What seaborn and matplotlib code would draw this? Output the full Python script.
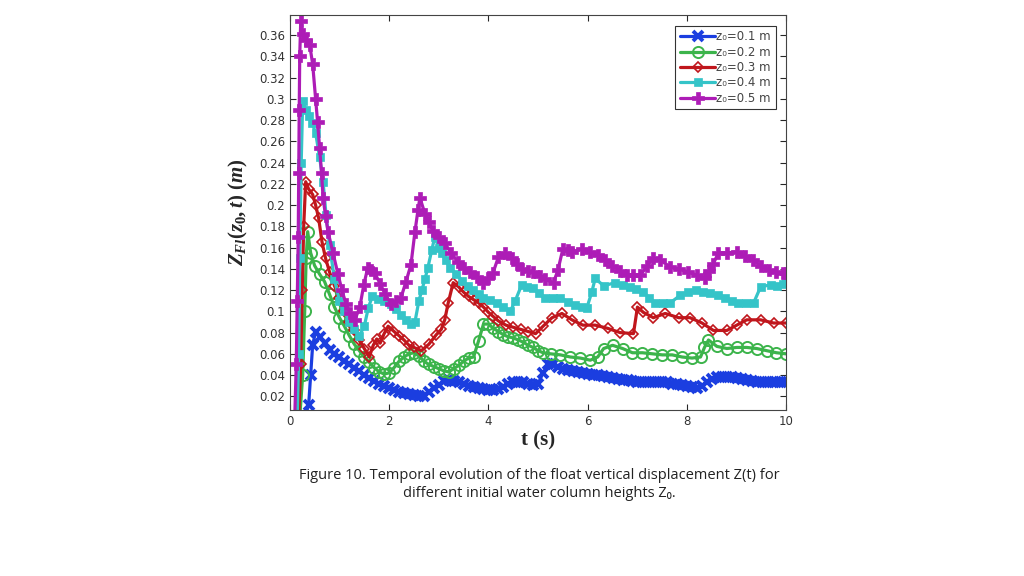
import numpy as np
import pandas as pd
import matplotlib
matplotlib.use("Agg")
import matplotlib.pyplot as plt
import seaborn as sns

# values (t in s, Z in m)
t_01 = [0.30, 0.38, 0.42, 0.46, 0.52, 0.60, 0.70, 0.80, 0.90, 1.00, 1.10, 1.20, 1.30, 1.40,
        1.50, 1.60, 1.70, 1.80, 1.90, 2.00, 2.10, 2.20, 2.30, 2.40, 2.50, 2.60, 2.70, 2.80,
        2.90, 3.00, 3.10, 3.20, 3.30, 3.40, 3.50, 3.60, 3.70, 3.80, 3.90, 4.00, 4.10, 4.20,
        4.30, 4.40, 4.50, 4.60, 4.70, 4.80, 4.90, 5.00, 5.10, 5.20, 5.30, 5.40, 5.50, 5.60,
        5.70, 5.80, 5.90, 6.00, 6.10, 6.20, 6.30, 6.40, 6.50, 6.60, 6.70, 6.80, 6.90, 7.00,
        7.10, 7.20, 7.30, 7.40, 7.50, 7.60, 7.70, 7.80, 7.90, 8.00, 8.10, 8.20, 8.30, 8.40,
        8.50, 8.60, 8.70, 8.80, 8.90, 9.00, 9.10, 9.20, 9.30, 9.40, 9.50, 9.60, 9.70, 9.80,
        9.90, 10.0]
z_01 = [0.000, 0.012, 0.040, 0.068, 0.081, 0.076, 0.070, 0.064, 0.060, 0.057, 0.053, 0.050,
        0.047, 0.044, 0.040, 0.037, 0.034, 0.032, 0.030, 0.028, 0.026, 0.024, 0.023, 0.022,
        0.021, 0.020, 0.020, 0.024, 0.028, 0.031, 0.034, 0.035, 0.034, 0.033, 0.032, 0.030,
        0.029, 0.028, 0.027, 0.026, 0.026, 0.027, 0.029, 0.032, 0.033, 0.033, 0.033, 0.032,
        0.031, 0.032, 0.042, 0.050, 0.050, 0.048, 0.046, 0.045, 0.044, 0.043, 0.042, 0.041,
        0.040, 0.040, 0.039, 0.038, 0.037, 0.036, 0.035, 0.035, 0.034, 0.033, 0.033, 0.033,
        0.033, 0.033, 0.033, 0.033, 0.032, 0.032, 0.031, 0.030, 0.029, 0.028, 0.030, 0.033,
        0.036, 0.038, 0.038, 0.038, 0.038, 0.037, 0.036, 0.035, 0.034, 0.033, 0.033, 0.033,
        0.033, 0.033, 0.033, 0.033]

t_02 = [0.20, 0.26, 0.30, 0.33, 0.36, 0.42, 0.50, 0.60, 0.70, 0.80, 0.90, 1.00, 1.10, 1.20,
        1.30, 1.40, 1.50, 1.60, 1.70, 1.80, 1.90, 2.00, 2.10, 2.20, 2.30, 2.40, 2.50, 2.60,
        2.70, 2.80, 2.90, 3.00, 3.10, 3.20, 3.30, 3.40, 3.50, 3.60, 3.70, 3.80, 3.90, 4.00,
        4.10, 4.20, 4.30, 4.40, 4.50, 4.60, 4.70, 4.80, 4.90, 5.00, 5.10, 5.25, 5.45, 5.65,
        5.85, 6.05, 6.20, 6.32, 6.50, 6.70, 6.90, 7.10, 7.30, 7.50, 7.70, 7.90, 8.10, 8.27,
        8.35, 8.43, 8.60, 8.80, 9.00, 9.20, 9.40, 9.60, 9.80, 10.0]
z_02 = [0.000, 0.040, 0.100, 0.150, 0.175, 0.155, 0.143, 0.135, 0.128, 0.116, 0.104, 0.094,
        0.086, 0.077, 0.069, 0.063, 0.057, 0.052, 0.047, 0.043, 0.041, 0.042, 0.047, 0.053,
        0.057, 0.060, 0.061, 0.058, 0.053, 0.050, 0.048, 0.046, 0.044, 0.043, 0.046, 0.049,
        0.053, 0.056, 0.057, 0.072, 0.088, 0.088, 0.084, 0.081, 0.078, 0.076, 0.075, 0.073,
        0.071, 0.068, 0.066, 0.063, 0.061, 0.060, 0.059, 0.057, 0.056, 0.054, 0.057, 0.065,
        0.068, 0.065, 0.061, 0.061, 0.060, 0.059, 0.059, 0.057, 0.056, 0.057, 0.066, 0.073,
        0.067, 0.065, 0.066, 0.066, 0.065, 0.063, 0.061, 0.060]

t_03 = [0.18, 0.22, 0.25, 0.28, 0.32, 0.38, 0.46, 0.52, 0.58, 0.65, 0.72, 0.80, 0.90, 1.00,
        1.10, 1.20, 1.30, 1.40, 1.50, 1.60, 1.68, 1.75, 1.82, 1.90, 1.98, 2.10, 2.20, 2.30,
        2.40, 2.50, 2.65, 2.80, 2.95, 3.05, 3.12, 3.19, 3.29, 3.40, 3.50, 3.60, 3.70, 3.80,
        3.90, 4.00, 4.10, 4.20, 4.35, 4.50, 4.65, 4.80, 4.95, 5.10, 5.28, 5.48, 5.68, 5.90,
        6.15, 6.40, 6.65, 6.92, 7.00, 7.12, 7.32, 7.56, 7.83, 8.06, 8.30, 8.53, 8.80, 9.00,
        9.20, 9.48, 9.74, 10.0]
z_03 = [0.000, 0.050, 0.120, 0.180, 0.222, 0.215, 0.210, 0.200, 0.188, 0.165, 0.150, 0.137,
        0.124, 0.113, 0.100, 0.090, 0.082, 0.073, 0.065, 0.057, 0.068, 0.074, 0.070, 0.079,
        0.086, 0.081, 0.077, 0.073, 0.068, 0.066, 0.063, 0.069, 0.078, 0.083, 0.092, 0.108,
        0.127, 0.123, 0.118, 0.114, 0.111, 0.108, 0.104, 0.099, 0.095, 0.091, 0.087, 0.085,
        0.083, 0.081, 0.079, 0.086, 0.094, 0.098, 0.092, 0.087, 0.087, 0.084, 0.080, 0.079,
        0.104, 0.099, 0.094, 0.098, 0.094, 0.094, 0.089, 0.082, 0.082, 0.087, 0.092, 0.092,
        0.089, 0.089]

t_04 = [0.15, 0.18, 0.20, 0.23, 0.26, 0.32, 0.38, 0.45, 0.52, 0.60, 0.67, 0.73, 0.80, 0.90,
        1.00, 1.10, 1.20, 1.30, 1.40, 1.50, 1.58, 1.66, 1.77, 1.90, 2.04, 2.14, 2.24, 2.34,
        2.44, 2.52, 2.60, 2.66, 2.72, 2.78, 2.86, 2.92, 3.00, 3.06, 3.14, 3.23, 3.35, 3.47,
        3.58, 3.69, 3.80, 3.89, 4.03, 4.17, 4.30, 4.44, 4.54, 4.67, 4.78, 4.90, 5.02, 5.14,
        5.29, 5.44, 5.60, 5.75, 5.88, 5.98, 6.08, 6.15, 6.32, 6.55, 6.70, 6.85, 6.98, 7.12,
        7.24, 7.36, 7.51, 7.66, 7.86, 8.02, 8.17, 8.32, 8.47, 8.62, 8.77, 8.90, 9.03, 9.18,
        9.34, 9.48, 9.68, 9.82, 9.94, 10.0]
z_04 = [0.000, 0.060, 0.150, 0.240, 0.298, 0.290, 0.284, 0.277, 0.268, 0.245, 0.222, 0.191,
        0.162, 0.130, 0.110, 0.100, 0.090, 0.083, 0.077, 0.086, 0.103, 0.114, 0.112, 0.110,
        0.107, 0.102, 0.097, 0.092, 0.088, 0.090, 0.110, 0.120, 0.130, 0.141, 0.158, 0.170,
        0.160, 0.155, 0.148, 0.141, 0.135, 0.129, 0.124, 0.120, 0.116, 0.113, 0.111, 0.108,
        0.104, 0.100, 0.110, 0.125, 0.123, 0.122, 0.117, 0.113, 0.113, 0.113, 0.109, 0.106,
        0.104, 0.103, 0.118, 0.131, 0.124, 0.127, 0.125, 0.123, 0.121, 0.118, 0.113, 0.108,
        0.108, 0.108, 0.115, 0.118, 0.120, 0.118, 0.117, 0.115, 0.113, 0.110, 0.108, 0.108,
        0.108, 0.123, 0.125, 0.124, 0.126, 0.127]

t_05 = [0.10, 0.13, 0.15, 0.17, 0.18, 0.19, 0.20, 0.22, 0.26, 0.33, 0.40, 0.46, 0.52, 0.56,
        0.60, 0.64, 0.67, 0.72, 0.77, 0.87, 0.97, 1.05, 1.13, 1.22, 1.31, 1.41, 1.49, 1.57,
        1.64, 1.71, 1.82, 1.92, 2.04, 2.14, 2.24, 2.34, 2.44, 2.52, 2.58, 2.62, 2.72, 2.80,
        2.88, 3.00, 3.12, 3.25, 3.39, 3.51, 3.63, 3.76, 3.89, 4.00, 4.09, 4.20, 4.33, 4.47,
        4.58, 4.68, 4.80, 4.90, 5.04, 5.14, 5.31, 5.40, 5.50, 5.60, 5.68, 5.89, 6.05, 6.21,
        6.35, 6.49, 6.65, 6.79, 6.92, 7.06, 7.20, 7.32, 7.46, 7.66, 7.84, 8.02, 8.20, 8.37,
        8.45, 8.53, 8.63, 8.80, 9.00, 9.16, 9.33, 9.48, 9.64, 9.80, 9.94, 10.0]
z_05 = [0.000, 0.050, 0.110, 0.170, 0.230, 0.290, 0.340, 0.373, 0.361, 0.355, 0.351, 0.333,
        0.300, 0.278, 0.254, 0.230, 0.207, 0.190, 0.175, 0.155, 0.135, 0.120, 0.107, 0.098,
        0.092, 0.104, 0.125, 0.141, 0.139, 0.136, 0.126, 0.116, 0.107, 0.110, 0.113, 0.128,
        0.144, 0.175, 0.195, 0.207, 0.192, 0.184, 0.176, 0.170, 0.164, 0.155, 0.146, 0.141,
        0.137, 0.132, 0.127, 0.131, 0.136, 0.151, 0.155, 0.150, 0.145, 0.140, 0.138, 0.137,
        0.133, 0.130, 0.127, 0.139, 0.159, 0.158, 0.156, 0.159, 0.156, 0.153, 0.148, 0.143,
        0.138, 0.134, 0.134, 0.134, 0.143, 0.150, 0.148, 0.142, 0.140, 0.137, 0.134, 0.131,
        0.138, 0.145, 0.155, 0.155, 0.156, 0.152, 0.148, 0.143, 0.139, 0.137, 0.136, 0.136]

labels = ["z\u2080=0.1 m", "z\u2080=0.2 m", "z\u2080=0.3 m", "z\u2080=0.4 m", "z\u2080=0.5 m"]
y_ticks = [0.02, 0.04, 0.06, 0.08, 0.1, 0.12, 0.14, 0.16, 0.18, 0.2,
           0.22, 0.24, 0.26, 0.28, 0.3, 0.32, 0.34, 0.36]
x_ticks = [0, 2, 4, 6, 8, 10]

series = [(t_01, z_01), (t_02, z_02), (t_03, z_03), (t_04, z_04), (t_05, z_05)]
colors = ["#1b3ee0", "#3cb44b", "#c0161c", "#35c4c8", "#ad1cb6"]
styles = [
    dict(marker="x", markersize=7.5, markeredgewidth=2.8),
    dict(marker="o", markersize=8, markerfacecolor="none", markeredgewidth=1.4),
    dict(marker="D", markersize=5.5, markerfacecolor="none", markeredgewidth=1.2),
    dict(marker="s", markersize=5.5, markeredgewidth=0.5),
    dict(marker="P", markersize=8.5, markeredgewidth=0.5),
]

sns.set_style("ticks")
plt.rcParams["mathtext.fontset"] = "custom"
plt.rcParams["mathtext.it"] = "Liberation Serif:italic:bold"
plt.rcParams["mathtext.rm"] = "Liberation Serif:bold"
plt.rcParams["mathtext.bf"] = "Liberation Serif:bold"

fig = plt.figure(figsize=(10.24, 5.76), dpi=100)
ax = fig.add_axes([0.283, 0.288, 0.485, 0.686])

for (t, z), lab, col, st in zip(series, labels, colors, styles):
    df = pd.DataFrame({"t": t, "z": z})
    sns.lineplot(data=df, x="t", y="z", ax=ax, color=col, linewidth=2.3,
                 label=lab, sort=False, estimator=None, markeredgecolor=col, **st)

ax.set_xlim(0, 10)
ax.set_ylim(0.007, 0.379)
ax.set_xticks(x_ticks)
ax.set_yticks(y_ticks)
ax.set_yticklabels([f"{v:g}" for v in y_ticks])
ax.tick_params(direction="in", top=True, right=True, labelsize=8.5,
               labelcolor="#333333", length=4, width=0.8)
for s in ax.spines.values():
    s.set_linewidth(0.8)
    s.set_color("#444444")

ax.set_xlabel("t (s)", family="Liberation Serif", fontweight="bold", fontsize=15, labelpad=2)
ax.set_ylabel(r"$Z_{Fl}(z_0,t)\ (m)$", fontsize=15, labelpad=6)

leg = ax.legend(loc="upper right", prop={"family": "DejaVu Sans", "size": 8.5},
                frameon=True, fancybox=False,
                borderaxespad=0.9, handlelength=3.0, labelspacing=0.2,
                borderpad=0.4, handletextpad=0.1)
leg.get_frame().set_edgecolor("black")
leg.get_frame().set_linewidth(0.8)
for txt in leg.get_texts():
    txt.set_color("#444444")

fig.text(0.527, 0.175, "Figure 10. Temporal evolution of the float vertical displacement Z(t) for",
         ha="center", va="center", fontsize=10.5, color="#222222",
         family=["Open Sans", "DejaVu Sans"])
fig.text(0.527, 0.143, "different initial water column heights Z\u2080.",
         ha="center", va="center", fontsize=10.5, color="#222222",
         family=["Open Sans", "DejaVu Sans"])

plt.savefig("out.png", dpi=100)
